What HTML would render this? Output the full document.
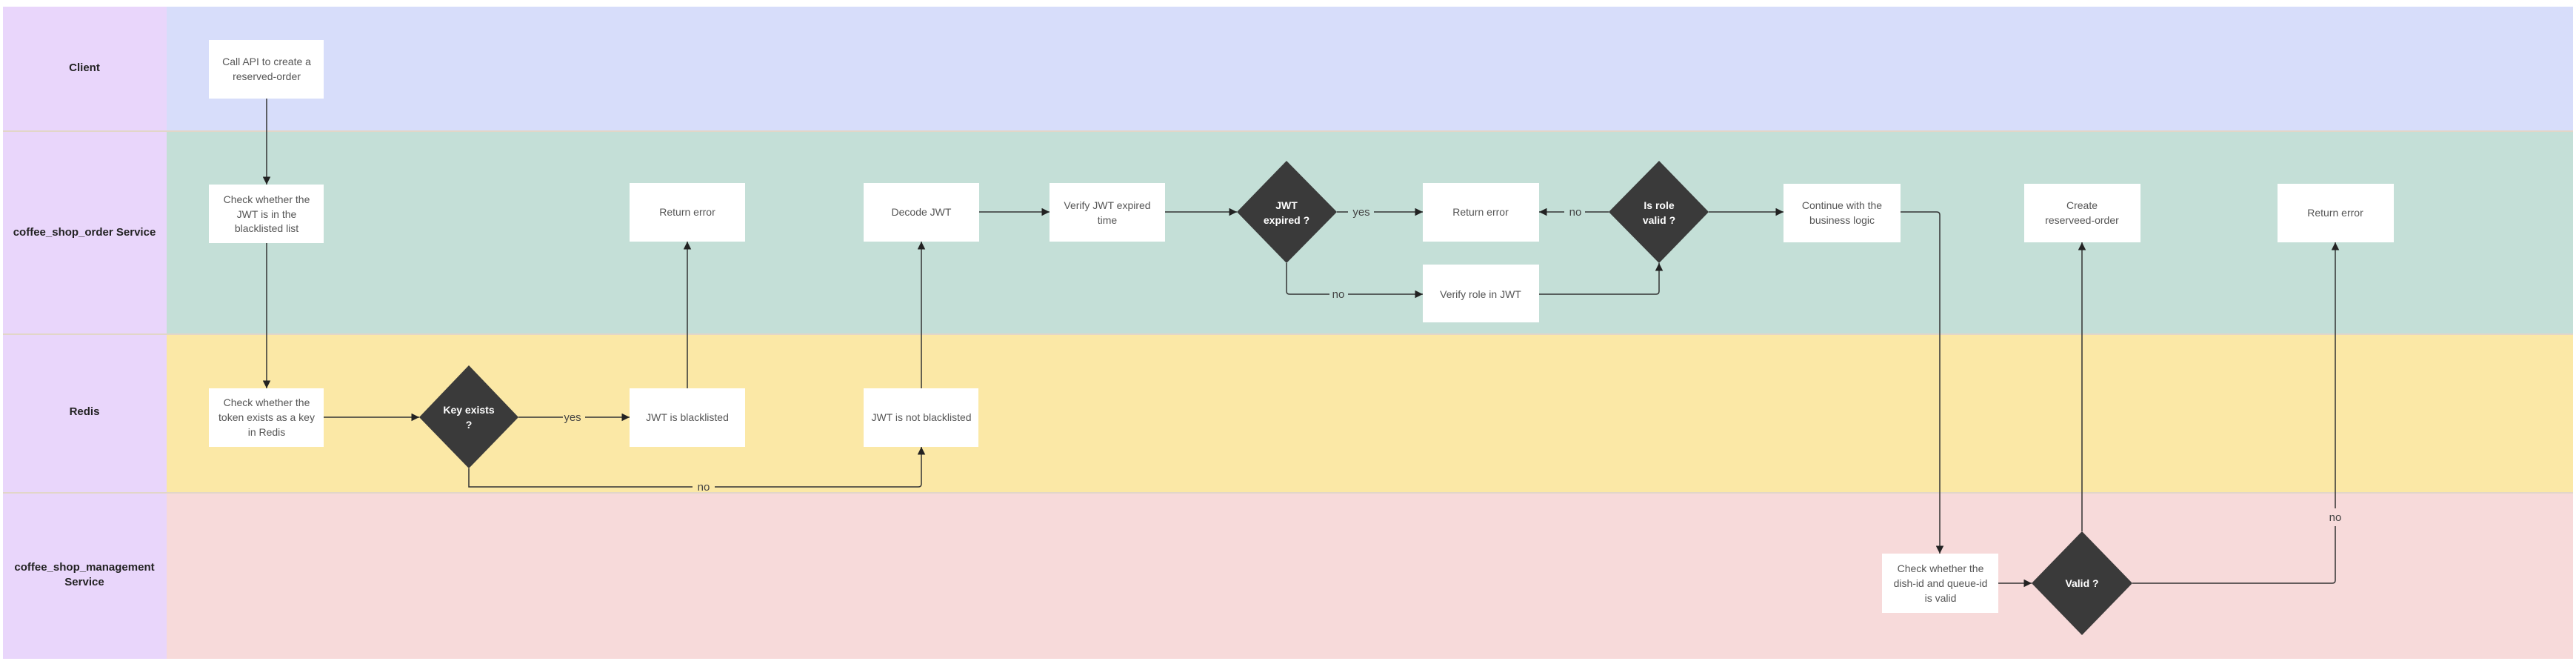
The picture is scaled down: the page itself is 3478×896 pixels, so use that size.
<!DOCTYPE html>
<html><head><meta charset="utf-8"><style>
html,body{margin:0;padding:0;background:#fff;width:3478px;height:896px;overflow:hidden}
svg text{font-family:"Liberation Sans",sans-serif}
.b{fill:#fff}
.t{font-size:14px;fill:#555;text-anchor:middle}
.d{fill:#3a3a3a}
.dt{font-size:14px;fill:#fff;font-weight:bold;text-anchor:middle}
.ln{stroke:#333;stroke-width:1.5;fill:none}
.lb{font-size:15px;fill:#222;font-weight:bold;text-anchor:middle}
.el{font-size:15px;fill:#444;text-anchor:middle}
</style></head><body>
<svg width="3478" height="896" viewBox="0 0 3478 896" xmlns="http://www.w3.org/2000/svg">
<defs><marker id="a" viewBox="0 0 10 10" refX="10" refY="5" markerWidth="7" markerHeight="7" orient="auto-start-reverse"><path d="M0,0L10,5L0,10z" fill="#222"/></marker></defs>
<rect x="0" y="0" width="3478" height="896" fill="#fff"/>
<rect x="4" y="9" width="221" height="880" fill="#e9d6fb"/>
<rect x="225" y="9" width="3249" height="168" fill="#d7ddfa"/>
<rect x="225" y="177" width="3249" height="274" fill="#c4dfd7"/>
<rect x="225" y="451" width="3249" height="214" fill="#fbe8a6"/>
<rect x="225" y="665" width="3249" height="224" fill="#f7dada"/>
<g stroke="#e2d6c8" stroke-width="2"><line x1="4" y1="177" x2="3474" y2="177"/><line x1="4" y1="451" x2="3474" y2="451"/><line x1="4" y1="665" x2="3474" y2="665"/></g>
<text class="lb" x="114" y="96">Client</text>
<text class="lb" x="114" y="318">coffee_shop_order Service</text>
<text class="lb" x="114" y="560">Redis</text>
<text class="lb" x="114" y="770">coffee_shop_management</text>
<text class="lb" x="114" y="790">Service</text>

<!-- connectors -->
<path class="ln" d="M360,133V249" marker-end="url(#a)"/>
<path class="ln" d="M360,328V524" marker-end="url(#a)"/>
<path class="ln" d="M437,563H566" marker-end="url(#a)"/>
<path class="ln" d="M700,563H760M790,563H850" marker-end="url(#a)"/>
<text class="el" x="773" y="568">yes</text>
<path class="ln" d="M633,632V657H935M965,657H1240Q1244,657 1244,653V603" marker-end="url(#a)"/>
<text class="el" x="950" y="662">no</text>
<path class="ln" d="M928,524V326" marker-end="url(#a)"/>
<path class="ln" d="M1244,524V326" marker-end="url(#a)"/>
<path class="ln" d="M1322,286H1417" marker-end="url(#a)"/>
<path class="ln" d="M1573,286H1670" marker-end="url(#a)"/>
<path class="ln" d="M1805,286H1820M1855,286H1921" marker-end="url(#a)"/>
<text class="el" x="1838" y="291">yes</text>
<path class="ln" d="M2172,286H2140M2112,286H2078" marker-end="url(#a)"/>
<text class="el" x="2127" y="291">no</text>
<path class="ln" d="M1737,355V393Q1737,397 1741,397H1795M1820,397H1921" marker-end="url(#a)"/>
<text class="el" x="1807" y="402">no</text>
<path class="ln" d="M2078,397H2236Q2240,397 2240,393V355" marker-end="url(#a)"/>
<path class="ln" d="M2307,286H2408" marker-end="url(#a)"/>
<path class="ln" d="M2566,286H2615Q2619,286 2619,290V747" marker-end="url(#a)"/>
<path class="ln" d="M2698,787H2743" marker-end="url(#a)"/>
<path class="ln" d="M2811,717V327" marker-end="url(#a)"/>
<path class="ln" d="M2879,787H3149Q3153,787 3153,783V710M3153,686V327" marker-end="url(#a)"/>
<text class="el" x="3153" y="703">no</text>

<!-- boxes -->
<rect class="b" x="282" y="54" width="155" height="79"/>
<text class="t" x="360" y="88">Call API to create a</text><text class="t" x="360" y="108">reserved-order</text>
<rect class="b" x="282" y="249" width="155" height="79"/>
<text class="t" x="360" y="274">Check whether the</text><text class="t" x="360" y="294">JWT is in the</text><text class="t" x="360" y="313">blacklisted list</text>
<rect class="b" x="850" y="247" width="156" height="79"/>
<text class="t" x="928" y="291">Return error</text>
<rect class="b" x="1166" y="247" width="156" height="79"/>
<text class="t" x="1244" y="291">Decode JWT</text>
<rect class="b" x="1417" y="247" width="156" height="79"/>
<text class="t" x="1495" y="282">Verify JWT expired</text><text class="t" x="1495" y="302">time</text>
<rect class="b" x="1921" y="247" width="157" height="79"/>
<text class="t" x="1999" y="291">Return error</text>
<rect class="b" x="1921" y="357" width="157" height="78"/>
<text class="t" x="1999" y="402">Verify role in JWT</text>
<rect class="b" x="2408" y="248" width="158" height="79"/>
<text class="t" x="2487" y="282">Continue with the</text><text class="t" x="2487" y="302">business logic</text>
<rect class="b" x="2733" y="248" width="157" height="79"/>
<text class="t" x="2811" y="282">Create</text><text class="t" x="2811" y="302">reserveed-order</text>
<rect class="b" x="3075" y="248" width="157" height="79"/>
<text class="t" x="3153" y="292">Return error</text>
<rect class="b" x="282" y="524" width="155" height="79"/>
<text class="t" x="360" y="548">Check whether the</text><text class="t" x="360" y="568">token exists as a key</text><text class="t" x="360" y="588">in Redis</text>
<rect class="b" x="850" y="524" width="156" height="79"/>
<text class="t" x="928" y="568">JWT is blacklisted</text>
<rect class="b" x="1166" y="524" width="155" height="79"/>
<text class="t" x="1244" y="568">JWT is not blacklisted</text>
<rect class="b" x="2541" y="747" width="157" height="80"/>
<text class="t" x="2620" y="772">Check whether the</text><text class="t" x="2620" y="792">dish-id and queue-id</text><text class="t" x="2620" y="812">is valid</text>

<!-- diamonds -->
<path class="d" d="M633,493L700,563L633,632L566,563z"/>
<text class="dt" x="633" y="558">Key exists</text><text class="dt" x="633" y="578">?</text>
<path class="d" d="M1737,217L1805,286L1737,355L1670,286z"/>
<text class="dt" x="1737" y="282">JWT</text><text class="dt" x="1737" y="302">expired ?</text>
<path class="d" d="M2240,217L2307,286L2240,355L2172,286z"/>
<text class="dt" x="2240" y="282">Is role</text><text class="dt" x="2240" y="302">valid ?</text>
<path class="d" d="M2811,717L2879,787L2811,857L2743,787z"/>
<text class="dt" x="2811" y="792">Valid ?</text>
</svg>
</body></html>
